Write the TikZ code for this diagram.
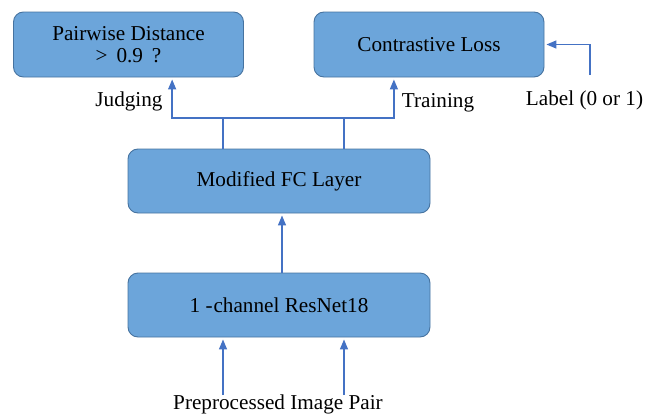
\documentclass[tikz,border=0pt]{standalone}
\usepackage{fontspec}
\setmainfont{Liberation Serif}
\usetikzlibrary{arrows.meta,calc}
\definecolor{boxfill}{RGB}{108,165,218}
\definecolor{boxline}{RGB}{70,115,160}
\definecolor{wire}{RGB}{68,114,196}
\begin{document}
\begin{tikzpicture}[x=1pt,y=-1pt,
  font=\fontsize{21.2}{22.5}\selectfont,
  block/.style={draw=boxline,fill=boxfill,line width=0.9pt,rounded corners=10pt,
    minimum height=65pt,align=center,inner sep=0pt},
  wireline/.style={draw=wire,line width=1.4pt},
  arr/.style={wireline,-{Triangle[length=10pt,width=8pt]},shorten >=2pt},
  txt/.style={inner sep=0pt,align=center}]
\useasboundingbox (0,0) rectangle (645,415);

% blocks
\node[block,minimum width=230pt] (pd) at (128.5,44.5) {Pairwise Distance\\[-1pt]{>}\, 0.9\, ?};
\node[block,minimum width=230pt] (cl) at (429,44.5) {Contrastive Loss};
\node[block,minimum width=302pt,minimum height=64pt] (fc) at (279,181) {Modified FC Layer};
\node[block,minimum width=302pt,minimum height=64pt] (rn) at (279,305) {1 -\kern1pt channel ResNet18};

% free text
\node[txt] (jud) at (129,101) {Judging};
\node[txt] (trn) at (438,103) {Training};
\node[txt] (lbl) at (584.5,100) {Label (0 or 1)};
\node[txt] (inp) at (278,404) {Preprocessed Image Pair};

% branching points on the FC layer and targets
\coordinate (fcL) at ($(fc.north west)!0.315!(fc.north east)$);
\coordinate (fcR) at ($(fc.north west)!0.715!(fc.north east)$);
\coordinate (pdIn) at ($(pd.south west)!0.689!(pd.south east)$);
\coordinate (clIn) at ($(cl.south west)!0.348!(cl.south east)$);
\coordinate (bus) at (0,118);

% FC layer to the two heads over a common bus
\draw[wireline] (fcL) -- (fcL |- bus);
\draw[wireline] (fcR) -- (fcR |- bus);
\draw[wireline] (fcL |- bus) -- (fcR |- bus);
\draw[arr] (fcL |- bus) -| (pdIn);
\draw[arr] (fcR |- bus) -| (clIn);

% label into the loss
\coordinate (lblTop) at (590,75);
\draw[arr] (lblTop) |- (cl.east);

% ResNet to FC layer
\draw[arr] ([xshift=3pt]rn.north) -- ([xshift=3pt]fc.south);

% image pair into ResNet
\coordinate (in1) at (223,395);
\coordinate (in2) at (344,395);
\draw[arr] (in1) -- (in1 |- rn.south);
\draw[arr] (in2) -- (in2 |- rn.south);
\end{tikzpicture}
\end{document}
